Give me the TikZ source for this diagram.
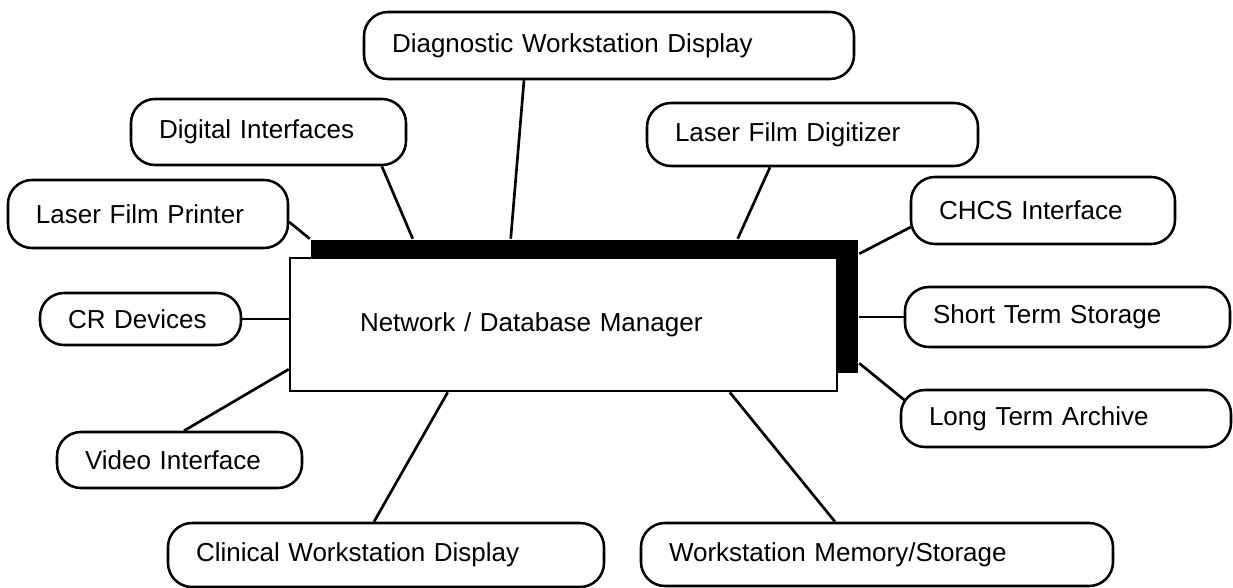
\documentclass[tikz,border=0pt]{standalone}
\usepackage{fontspec}
\setmainfont{Liberation Sans}
\usepackage{tikz}
\usetikzlibrary{shadows}

\tikzset{
  unit/.style={draw, line width=1.9pt, rounded corners=18pt, align=left, inner xsep=21pt, inner ysep=0pt, font=\fontsize{19.5}{23}\selectfont},
  manager/.style={draw, fill=white, line width=1.9pt, align=left, inner xsep=52.5pt, inner ysep=0pt, text width=305.25pt, minimum height=99.75pt, font=\fontsize{19.5}{23}\selectfont, general shadow={fill=black, shadow xshift=15.75pt, shadow yshift=13.5pt}},
  link/.style={line width=2pt}
}

\begin{document}
\begin{tikzpicture}[x=0.75pt,y=0.75pt,yscale=-1,xscale=1]
\useasboundingbox (0,0) rectangle (1233,588);

%Shape: Rectangle with shadow
\node [manager] (mgr) at (563.5,324.5) {Network / Database Manager};

%Rounded Rect
\node [unit, text width=325.5pt, minimum height=50.25pt] (diag) at (609,45.5) {Diagnostic Workstation Display};
\node [unit, text width=164.25pt, minimum height=49.5pt] (digital) at (268.5,132) {Digital Interfaces};
\node [unit, text width=168pt, minimum height=51pt] (lfprinter) at (148,214) {Laser Film Printer};
\node [unit, text width=206.25pt, minimum height=47.25pt] (lfdigit) at (812.5,134.5) {Laser Film Digitizer};
\node [unit, text width=156pt, minimum height=50.25pt] (chcs) at (1043,210.5) {CHCS Interface};
\node [unit, text width=201.75pt, minimum height=45pt] (short) at (1067.5,317) {Short Term Storage};
\node [unit, text width=205.5pt, minimum height=42.75pt] (long) at (1066,418.5) {Long Term Archive};
\node [unit, text width=312pt, minimum height=47.25pt] (wsmem) at (877,554.5) {Workstation Memory/Storage};
\node [unit, text width=108.75pt, minimum height=39pt] (cr) at (140.5,319) {CR Devices};
\node [unit, text width=141.75pt, minimum height=42pt] (video) at (179.5,460) {Video Interface};
\node [unit, text width=285pt, minimum height=48pt] (clinical) at (386,555) {Clinical Workstation Display};

%Straight Lines
\draw [link] ([yshift=6pt]lfprinter.east) -- ([xshift=15.75pt,yshift=-13.5pt]mgr.north west);
\draw [link] ([xshift=85pt]digital.south) -- ([xshift=93pt,yshift=-13.5pt]mgr.north west);
\draw [link] ([xshift=-63.75pt]diag.south) -- ([xshift=166.5pt,yshift=-13.5pt]mgr.north west);
\draw [link] ([xshift=-31.9pt]lfdigit.south) -- ([xshift=336.75pt,yshift=-13.5pt]mgr.north west);
\draw [link] ([xshift=0.8pt,yshift=12.4pt]chcs.west) -- ([xshift=15.75pt,yshift=-2.25pt]mgr.north east);
\draw [link] (short.west) -- ([xshift=15.75pt]mgr.east |- short.west);
\draw [link] ([xshift=3.4pt,yshift=-13.9pt]long.west) -- ([xshift=15.75pt,yshift=-21.75pt]mgr.south east);
\draw [link] ([xshift=-31.5pt]wsmem.north) -- ([xshift=330.75pt]mgr.south west);
\draw [link] ([xshift=-9pt]clinical.north) -- ([xshift=119.25pt]mgr.south west);
\draw [link] ([xshift=3.4pt]video.north) -- ([yshift=-17.25pt]mgr.south west);
\draw [link] (cr.east) -- (cr.east -| mgr.west);

\end{tikzpicture}
\end{document}
